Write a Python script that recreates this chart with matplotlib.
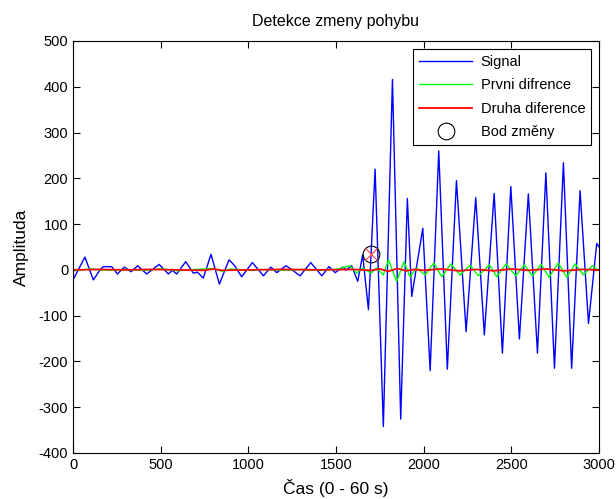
import matplotlib
matplotlib.use("Agg")
import matplotlib.pyplot as plt

plt.rcParams['font.family'] = ['Liberation Sans', 'DejaVu Sans']
plt.rcParams['axes.unicode_minus'] = False

# Signal (read at extrema)
sig_x = [0, 68, 116, 154, 173, 221, 253, 293, 331, 369, 420, 491, 544, 567, 591,
         643, 686, 710, 743, 787, 835, 890, 920, 962, 1023, 1086, 1128, 1162, 1215,
         1250, 1295, 1356, 1419, 1460, 1495, 1538, 1560, 1589, 1624, 1652, 1685,
         1723, 1770, 1822, 1869, 1907, 1932, 1995, 2037, 2086, 2135, 2187, 2242,
         2297, 2346, 2402, 2449, 2497, 2546, 2597, 2649, 2697, 2746, 2797, 2844,
         2892, 2940, 2987, 3000]
sig_y = [-22, 28, -22, 0, 7, 7, -9, 6, -4, 9, -9, 12, -9, -1, -9,
         18, -7, -5, -18, 34, -31, 22, 10, -15, 16, -13, 6, -6, 9,
         0, -13, 16, -13, 7, -6, 6, 0, 9, -25, 33, -87,
         220, -342, 416, -326, 156, -58, 91, -220, 260, -217, 195, -135,
         158, -142, 167, -182, 182, -151, 166, -182, 212, -215, 234, -215,
         173, -117, 58, 50]

# First difference
d1_x = [0, 100, 200, 300, 400, 500, 600, 700, 800, 850, 900, 1000, 1100, 1200,
        1300, 1400, 1500, 1580, 1618, 1650, 1700, 1730, 1770, 1799, 1846, 1888,
        1922, 1960, 2008, 2058, 2103, 2155, 2208, 2265, 2312, 2375, 2417, 2470,
        2525, 2575, 2620, 2670, 2715, 2768, 2816, 2864, 2911, 2962, 2995]
d1_y = [-2, 2, -1, 1, -1, 2, -2, 1, 3, -3, 2, -1, 1, -1,
        1, -1, 1, 9, -7, 4, -7, 4, -11, 22, -25, 18,
        -15, 4, -11, 15, -15, 13, -11, 10, -13, 11, -15, 13,
        -13, 11, -13, 12, -16, 15, -16, 13, -11, 9, -1]

# Second difference
d2_x = [0, 150, 300, 450, 600, 750, 800, 850, 1000, 1200, 1400, 1600, 1700,
        1750, 1800, 1850, 1900, 1950, 2000, 2100, 2200, 2300, 2400, 2500, 2600,
        2700, 2800, 2900, 3000]
d2_y = [0, 1, 0, 1, 0, -1, 2, -1, 0, 1, 0, 1, -1,
        2, -3, 3, -2, 1, -1, 2, -2, 1, -2, 2, -1, 2, -2, 1, 0]

# Change point
chg_x = [1700]
chg_y = [35]

fig = plt.figure(figsize=(6.16, 4.99), dpi=100)
ax = fig.add_axes([73/616, 1-453/499, (599-73)/616, (453-41)/499])

ax.plot(sig_x, sig_y, color=(0, 0, 1), lw=1.0, label='Signal')
ax.plot(d1_x, d1_y, color=(0, 1, 0), lw=1.0, label='Prvni difrence')
ax.plot(d2_x, d2_y, color=(1, 0, 0), lw=1.3, label='Druha diference')
ax.plot(chg_x, chg_y, 'o', mfc='none', mec='black', ms=12, mew=0.8, label='Bod změny')
ax.plot(chg_x, chg_y, 'x', color=(1, 0.3, 0.3), ms=9, mew=0.9)

ax.set_xlim(0, 3000)
ax.set_ylim(-400, 500)
ax.set_xticks(range(0, 3001, 500))
ax.set_yticks(range(-400, 501, 100))
ax.tick_params(direction='in', top=True, right=True, length=5, labelsize=10.5, width=0.8)
for s in ax.spines.values():
    s.set_linewidth(0.8)

ax.set_title('Detekce zmeny pohybu', fontsize=11.5, pad=11)
ax.set_xlabel('Čas (0 - 60 s)', fontsize=12.5, labelpad=5)
ax.set_ylabel('Amplituda', fontsize=12.5, labelpad=7)

leg = ax.legend(loc='upper right', fontsize=10.5, handlelength=3.6, frameon=True,
                fancybox=False, framealpha=1, edgecolor='black',
                borderpad=0.4, labelspacing=0.65, handletextpad=0.6,
                borderaxespad=0.55)
leg.get_frame().set_linewidth(0.8)

fig.savefig('out.png', dpi=100)
